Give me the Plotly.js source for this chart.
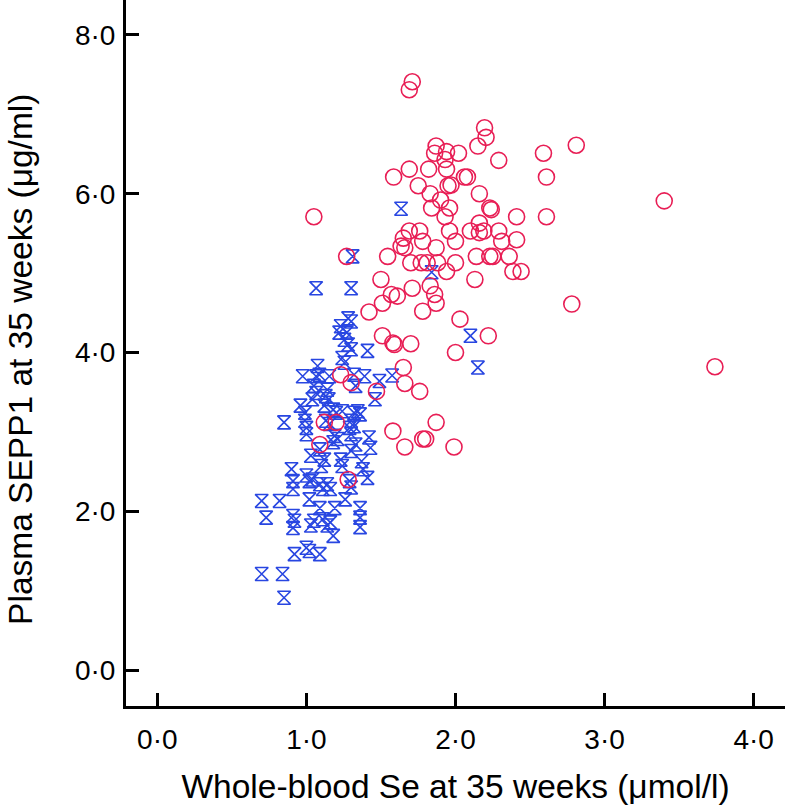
<!DOCTYPE html>
<html>
<head>
<meta charset="utf-8">
<script src="https://cdn.plot.ly/plotly-3.0.1.min.js"></script>
<style>html,body{margin:0;padding:0;background:#fff;}#chart{width:788px;height:808px;}</style>
</head>
<body>
<div id="chart"></div>
<script>
// Group with lower whole-blood Se (blue hourglass markers)
const blueX = [1.635,1.31,1.065,1.30,1.84,2.10,2.15,
  1.28,1.30,1.23,1.27,1.22,1.255,1.28,1.30,1.41,1.24,1.255,1.075,
  0.975,1.065,1.087,1.154,1.32,1.39,1.49,1.575,
  1.05,1.065,1.04,1.14,1.13,1.15,1.33,1.46,
  0.96,0.99,1.12,1.18,1.20,1.24,1.32,1.345,1.36,
  0.85,0.99,1.0,1.13,1.155,1.30,1.29,1.32,1.42,1.43,
  1.0,1.19,1.21,1.18,1.30,1.33,1.30,1.09,
  1.03,1.12,1.10,1.23,1.24,1.37,1.38,
  0.90,0.91,0.91,1.0,1.04,1.02,1.09,1.14,1.11,1.16,1.41,1.29,1.30,
  1.26,1.02,0.82,0.70,0.73,
  1.09,1.05,1.11,1.19,1.16,1.18,1.36,1.36,1.36,
  0.91,0.92,0.91,1.03,1.14,
  1.0,1.02,0.92,1.09,0.70,0.84,0.85];
const blueY = [5.81,5.21,4.81,4.81,5.01,4.21,3.81,
  4.43,4.39,4.33,4.25,4.25,4.16,4.10,4.04,4.02,3.93,3.87,3.83,
  3.70,3.70,3.72,3.70,3.72,3.70,3.64,3.71,
  3.58,3.49,3.41,3.53,3.45,3.41,3.58,3.41,
  3.33,3.24,3.33,3.28,3.24,3.26,3.24,3.26,3.22,
  3.12,3.14,3.05,3.14,3.10,3.14,3.05,3.07,2.93,2.80,
  2.97,2.95,2.91,2.87,2.97,2.84,2.76,2.78,
  2.70,2.65,2.57,2.65,2.57,2.63,2.53,
  2.53,2.38,2.28,2.45,2.40,2.38,2.34,2.34,2.28,2.28,2.42,2.38,2.30,
  2.15,2.15,2.13,2.13,1.92,
  2.04,1.88,1.90,2.04,1.86,1.69,2.04,1.92,1.80,
  1.94,1.88,1.79,1.82,1.82,
  1.54,1.50,1.46,1.46,1.21,1.21,0.91];

// Group with higher whole-blood Se (red open circles)
const redX = [1.05,1.27,1.545,1.50,1.71,1.69,2.195,2.205,2.15,
  1.87,1.86,1.94,2.02,1.93,1.94,2.29,2.59,2.81,2.61,
  1.585,1.69,1.82,1.75,1.83,1.95,1.97,2.06,2.08,2.16,1.90,
  1.84,1.96,1.93,2.23,2.24,2.41,2.61,3.40,
  1.96,2.00,2.10,2.16,2.19,2.29,2.16,2.31,2.41,
  1.69,1.76,1.65,1.78,1.635,1.66,1.87,
  1.70,1.77,1.81,1.88,2.00,2.14,2.23,2.25,2.36,2.385,2.44,2.13,1.94,
  1.83,1.86,1.87,1.78,1.71,1.57,1.51,1.61,1.42,
  2.03,2.22,2.00,1.51,1.58,1.59,1.70,1.65,1.66,1.76,1.47,
  1.87,1.58,1.78,1.80,1.66,1.99,2.78,3.74,
  1.23,1.30,1.12,1.20,1.09,1.28];
const redY = [5.71,5.21,5.21,4.92,7.41,7.31,6.83,6.71,6.60,
  6.60,6.51,6.53,6.51,6.43,6.31,6.42,6.51,6.61,6.21,
  6.21,6.31,6.31,6.10,6.00,6.10,6.11,6.21,6.21,6.00,5.92,
  5.82,5.82,5.71,5.82,5.80,5.71,5.71,5.91,
  5.53,5.40,5.53,5.51,5.53,5.53,5.63,5.40,5.42,
  5.53,5.53,5.44,5.40,5.34,5.32,5.32,
  5.13,5.13,5.13,5.13,5.13,5.21,5.21,5.21,5.21,5.02,5.02,4.92,5.02,
  4.84,4.73,4.62,4.52,4.81,4.73,4.62,4.71,4.51,
  4.42,4.21,4.00,4.21,4.12,4.10,4.11,3.81,3.61,3.51,3.51,
  3.12,3.01,2.91,2.91,2.81,2.81,4.61,3.82,
  3.72,3.62,3.12,3.12,2.84,2.40];

const xTickVals = [0, 1, 2, 3, 4];
const xTickText = ['0·0', '1·0', '2·0', '3·0', '4·0'];
const yTickVals = [0, 2, 4, 6, 8];
const yTickText = ['0·0', '2·0', '4·0', '6·0', '8·0'];

const xTitle = 'Whole-blood Se at 35 weeks (μmol/l)';
const yTitle = 'Plasma SEPP1 at 35 weeks (μg/ml)';

const FONT = 'Liberation Sans, Arial, Helvetica, sans-serif';

const traces = [
  {
    x: blueX, y: blueY, type: 'scatter', mode: 'markers',
    marker: {symbol: 'hourglass-open', size: 13, color: 'rgb(40,70,225)', line: {width: 1.6, color: 'rgb(40,70,225)'}},
    hoverinfo: 'x+y', showlegend: false
  },
  {
    x: redX, y: redY, type: 'scatter', mode: 'markers',
    marker: {symbol: 'circle-open', size: 16, color: 'rgb(232,30,85)', line: {width: 1.6, color: 'rgb(232,30,85)'}},
    hoverinfo: 'x+y', showlegend: false
  }
];

const axisCommon = {
  showgrid: false, zeroline: false, showline: true, linecolor: '#000', linewidth: 3,
  ticks: 'inside', ticklen: 13, tickwidth: 3, tickcolor: '#000',
  tickfont: {family: FONT, size: 28, color: '#000'}, tickmode: 'array'
};

const layout = {
  width: 788, height: 808,
  margin: {l: 126, r: 3, t: 0, b: 102},
  paper_bgcolor: '#fff', plot_bgcolor: '#fff',
  showlegend: false,
  xaxis: Object.assign({}, axisCommon, {
    range: [-0.21, 4.21], tickvals: xTickVals, ticktext: xTickText,
    ticklabelstandoff: 6,
    title: {text: xTitle, font: {family: FONT, size: 33.5, color: '#000'}, standoff: 21}
  }),
  yaxis: Object.assign({}, axisCommon, {
    range: [-0.453, 8.44], tickvals: yTickVals, ticktext: yTickText,
    ticklabelstandoff: 2
  }),
  annotations: [{
    text: yTitle, textangle: -90, showarrow: false,
    xref: 'paper', yref: 'paper', x: -0.161, y: 0.4915,
    xanchor: 'center', yanchor: 'middle',
    font: {family: FONT, size: 33.5, color: '#000'}
  }]
};

Plotly.newPlot('chart', traces, layout, {displayModeBar: false, staticPlot: true});
</script>
</body>
</html>
